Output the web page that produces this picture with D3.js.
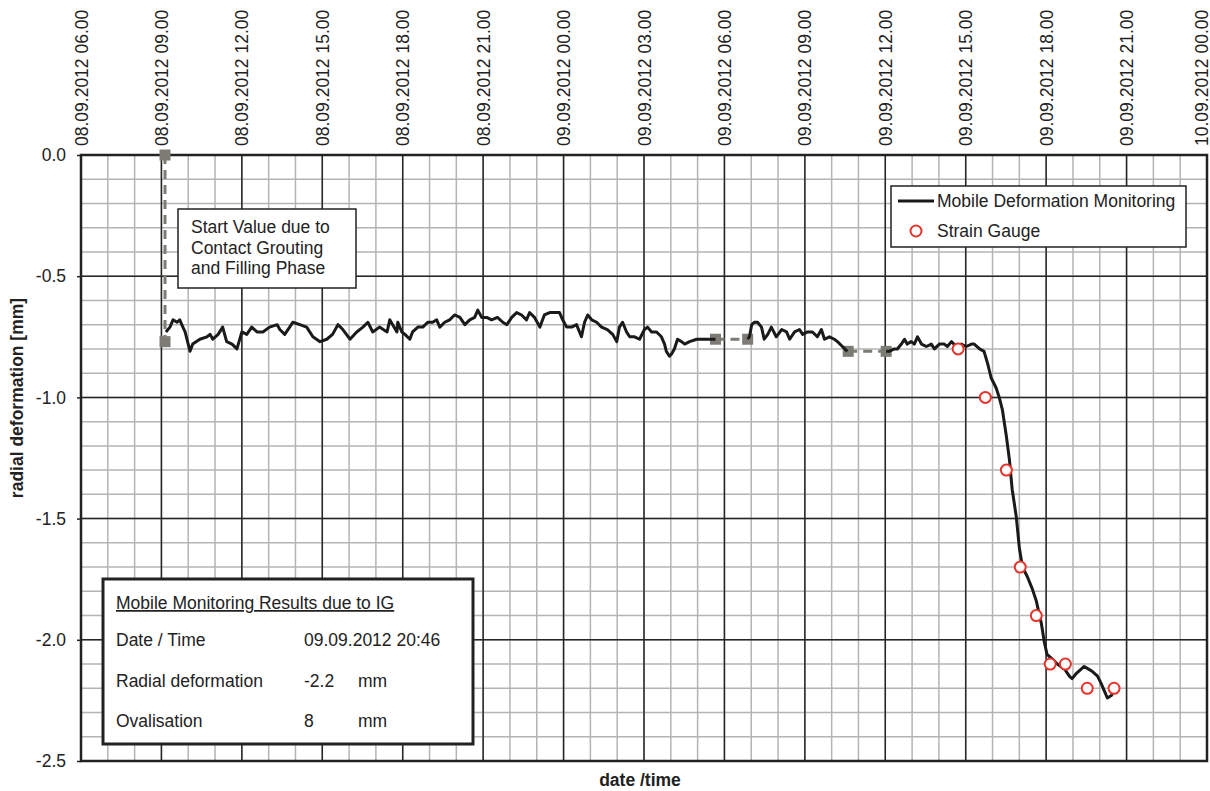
<!DOCTYPE html>
<html>
<head>
<meta charset="utf-8">
<script src="https://cdn.jsdelivr.net/npm/d3@7"></script>
<style>
  html, body { margin: 0; padding: 0; background: #fff; }
  svg { display: block; font-family: "Liberation Sans", Arial, sans-serif; }
  .grid-minor line { stroke: #b4b4b4; stroke-width: 1.5; }
  .grid-major line { stroke: #262626; stroke-width: 1.5; }
  .axis path { display: none; }
  .axis text { font-size: 17.5px; fill: #222; }
  .axis line { stroke: #222; stroke-width: 1.5; }
  .box-text { font-size: 17.5px; fill: #222; }
</style>
</head>
<body>
<div id="chart"></div>
<script>
// hours since 08.09.2012 00:00, null = gap in the record
const monitorHours = [
  9.17, 9.32, 9.43, 9.58, 9.69, 9.80, 9.88, 10.06, 10.17, 10.44, 10.70, 10.81, 10.92, 11.11, 11.29,
  11.44, 11.63, 11.81, 12.00, 12.19, 12.37, 12.56, 12.78, 13.04, 13.31, 13.42, 13.60, 13.79, 13.90,
  14.16, 14.42, 14.65, 14.91, 15.17, 15.39, 15.58, 15.77, 16.03, 16.29, 16.51, 16.70, 16.88, 17.14,
  17.41, 17.52, 17.78, 17.82, 17.96, 18.08, 18.26, 18.37, 18.56, 18.75, 18.93, 19.12, 19.27, 19.38,
  19.57, 19.75, 19.94, 20.13, 20.31, 20.50, 20.69, 20.80, 20.95, 21.13, 21.32, 21.54, 21.73, 21.88,
  22.06, 22.25, 22.44, 22.62, 22.74, 22.92, 23.11, 23.29, 23.48, 23.67, 23.85, 23.97, 24.11, 24.30,
  24.49, 24.67, 24.79, 24.90, 25.05, 25.23, 25.42, 25.64, 25.83, 25.98, 26.09, 26.20, 26.35, 26.46,
  26.65, 26.84, 27.02, 27.13, 27.28, 27.47, 27.65, 27.77, 27.84, 27.95, 28.03, 28.14, 28.25, 28.40,
  28.51, 28.70, 28.96, 29.52, 29.67,
  null,
  30.86, 30.93, 31.01, 31.12, 31.23, 31.38, 31.49, 31.61, 31.75, 31.94, 32.13, 32.31, 32.43, 32.61,
  32.80, 32.91, 33.10, 33.28, 33.47, 33.62, 33.73, 33.92, 34.10, 34.22, 34.40, 34.59,
  null,
  36.04, 36.15, 36.34, 36.45, 36.60, 36.71, 36.82, 36.97, 37.08, 37.20, 37.35, 37.53, 37.72, 37.83,
  38.02, 38.20, 38.31, 38.46, 38.65, 38.84, 39.02, 39.21, 39.32, 39.51, 39.69, 39.81, 39.95, 40.14,
  40.25, 40.36, 40.51, 40.63, 40.74, 40.89, 41.00, 41.11, 41.30, 41.48, 41.63, 41.74, 41.82, 41.93,
  42.04, 42.23, 42.41, 42.68, 42.86, 42.97, 43.12, 43.31, 43.42, 43.57, 43.72, 43.91, 44.05, 44.17,
  44.28, 44.43, 44.54
];
const monitorValues = [
  -0.73, -0.71, -0.68, -0.69, -0.68, -0.71, -0.73, -0.81, -0.78, -0.76, -0.75, -0.74, -0.76, -0.74, -0.71,
  -0.77, -0.78, -0.80, -0.73, -0.74, -0.71, -0.73, -0.73, -0.71, -0.70, -0.72, -0.74, -0.71, -0.69,
  -0.70, -0.71, -0.75, -0.77, -0.76, -0.74, -0.70, -0.72, -0.76, -0.73, -0.71, -0.69, -0.73, -0.71,
  -0.73, -0.68, -0.73, -0.69, -0.73, -0.74, -0.76, -0.73, -0.71, -0.71, -0.69, -0.69, -0.68, -0.71,
  -0.69, -0.68, -0.66, -0.67, -0.70, -0.68, -0.67, -0.64, -0.67, -0.67, -0.68, -0.67, -0.69, -0.70,
  -0.67, -0.65, -0.66, -0.68, -0.65, -0.67, -0.71, -0.66, -0.65, -0.65, -0.65, -0.68, -0.71, -0.71,
  -0.70, -0.75, -0.69, -0.66, -0.68, -0.69, -0.71, -0.72, -0.74, -0.77, -0.71, -0.69, -0.73, -0.75,
  -0.75, -0.76, -0.72, -0.71, -0.73, -0.73, -0.75, -0.78, -0.81, -0.83, -0.82, -0.80, -0.76, -0.77,
  -0.78, -0.77, -0.76, -0.76, -0.76,
  null,
  -0.76, -0.75, -0.70, -0.69, -0.69, -0.71, -0.76, -0.74, -0.71, -0.75, -0.72, -0.73, -0.76, -0.73,
  -0.72, -0.74, -0.73, -0.73, -0.75, -0.72, -0.76, -0.75, -0.76, -0.77, -0.79, -0.81,
  null,
  -0.81, -0.81, -0.80, -0.80, -0.78, -0.76, -0.78, -0.77, -0.78, -0.75, -0.78, -0.79, -0.78, -0.80,
  -0.78, -0.78, -0.79, -0.77, -0.79, -0.78, -0.79, -0.78, -0.78, -0.80, -0.81, -0.86, -0.92, -0.96,
  -1.00, -1.05, -1.16, -1.26, -1.38, -1.49, -1.62, -1.70, -1.74, -1.79, -1.84, -1.89, -1.93, -2.01,
  -2.06, -2.08, -2.10, -2.12, -2.15, -2.16, -2.14, -2.12, -2.11, -2.12, -2.13, -2.15, -2.18, -2.21,
  -2.24, -2.23, -2.21
];

// start value and bridged gaps (grey dashed, square markers)
const bridgeHours = [9.13, 9.13, null, 29.67, 30.86, null, 34.62, 36.04];
const bridgeValues = [0.0, -0.77, null, -0.76, -0.76, null, -0.81, -0.81];

const gaugeHours = [38.72, 39.73, 40.51, 41.03, 41.63, 42.15, 42.71, 43.53, 44.54];
const gaugeValues = [-0.80, -1.00, -1.30, -1.70, -1.90, -2.10, -2.10, -2.20, -2.20];

const yMajorTicks = [0.0, -0.5, -1.0, -1.5, -2.0, -2.5];

const infoTitle = "Mobile Monitoring Results due to IG";
const infoRows = [
  ["Date / Time", "09.09.2012 20:46", ""],
  ["Radial deformation", "-2.2", "mm"],
  ["Ovalisation", "8", "mm"]
];
const noteLines = ["Start Value due to", "Contact Grouting", "and Filling Phase"];
const legendItems = ["Mobile Deformation Monitoring", "Strain Gauge"];

const W = 1210, H = 791;
const margin = { top: 155, right: 3, bottom: 30, left: 81 };

const base = new Date(2012, 8, 8, 0, 0);
const toDate = h => d3.timeMinute.offset(base, Math.round(h * 60));

const svg = d3.select('#chart').append('svg')
  .attr('width', W)
  .attr('height', H);

const x = d3.scaleTime()
  .domain([toDate(6), toDate(48)])
  .range([margin.left, W - margin.right]);
const y = d3.scaleLinear()
  .domain([-2.5, 0])
  .range([H - margin.bottom, margin.top]);

const x0 = x.range()[0], x1 = x.range()[1];
const y0 = y.range()[1], y1 = y.range()[0];

// grid
const minorX = x.ticks(d3.timeHour.every(1));
const majorX = x.ticks(d3.timeHour.every(3));
const minorY = d3.range(0, 26).map(i => -i / 10);

svg.append('g').attr('class', 'grid-minor')
  .selectAll('line.v').data(minorX).join('line')
  .attr('x1', d => x(d)).attr('x2', d => x(d))
  .attr('y1', y0).attr('y2', y1);
svg.append('g').attr('class', 'grid-minor')
  .selectAll('line.h').data(minorY).join('line')
  .attr('x1', x0).attr('x2', x1)
  .attr('y1', d => y(d)).attr('y2', d => y(d));
svg.append('g').attr('class', 'grid-major')
  .selectAll('line').data(majorX).join('line')
  .attr('x1', d => x(d)).attr('x2', d => x(d))
  .attr('y1', y0).attr('y2', y1);
svg.append('g').attr('class', 'grid-major')
  .selectAll('line').data(yMajorTicks).join('line')
  .attr('x1', x0).attr('x2', x1)
  .attr('y1', d => y(d)).attr('y2', d => y(d));

// axes
const fmt = d3.timeFormat('%d.%m.%Y %H.%M');
const topAxis = svg.append('g')
  .attr('class', 'axis')
  .attr('transform', `translate(0,${y0})`)
  .call(d3.axisTop(x).ticks(d3.timeHour.every(3)).tickFormat(fmt).tickSize(0));
topAxis.selectAll('text')
  .attr('transform', 'rotate(-90)')
  .attr('text-anchor', 'start')
  .attr('x', 9)
  .attr('y', 0)
  .attr('dy', (d, i, n) => i === n.length - 1 ? '0em' : '0.35em'); // last one sits on the edge

svg.append('g')
  .attr('class', 'axis')
  .attr('transform', `translate(${x0},0)`)
  .call(d3.axisLeft(y).tickValues(yMajorTicks).tickFormat(d => d.toFixed(1)).tickSize(4).tickPadding(11));

svg.append('text')
  .attr('transform', `translate(23,${(y0 + y1) / 2 - 60}) rotate(-90)`)
  .attr('text-anchor', 'middle')
  .style('font-size', '17.5px')
  .style('font-weight', 'bold')
  .attr('fill', '#222')
  .text('radial deformation [mm]');

svg.append('text')
  .attr('x', (x0 + x1) / 2 - 4)
  .attr('y', 786)
  .attr('text-anchor', 'middle')
  .style('font-size', '17.5px')
  .style('font-weight', 'bold')
  .attr('fill', '#222')
  .text('date /time');

// plot frame
svg.append('rect')
  .attr('x', x0).attr('y', y0)
  .attr('width', x1 - x0).attr('height', y1 - y0)
  .attr('fill', 'none')
  .attr('stroke', '#222')
  .attr('stroke-width', 2.5);

// grey dashed bridges
const bridge = bridgeHours.map((h, i) => ({ h, v: bridgeValues[i] }));
const bridgeLine = d3.line()
  .defined(d => d.v !== null)
  .x(d => x(toDate(d.h)))
  .y(d => y(d.v));
svg.append('path')
  .datum(bridge)
  .attr('d', bridgeLine)
  .attr('fill', 'none')
  .attr('stroke', '#7c7c74')
  .attr('stroke-width', 3)
  .attr('stroke-dasharray', '9,6');
svg.append('g')
  .selectAll('rect').data(bridge.filter(d => d.v !== null)).join('rect')
  .attr('x', d => x(toDate(d.h)) - 5.5)
  .attr('y', d => y(d.v) - 5.5)
  .attr('width', 11).attr('height', 11)
  .attr('fill', '#7c7c74');

// monitoring line
const monitor = monitorHours.map((h, i) => ({ h, v: monitorValues[i] }));
const monitorLine = d3.line()
  .defined(d => d.v !== null)
  .x(d => x(toDate(d.h)))
  .y(d => y(d.v));
svg.append('path')
  .datum(monitor)
  .attr('d', monitorLine)
  .attr('fill', 'none')
  .attr('stroke', '#1a1a1a')
  .attr('stroke-width', 3)
  .attr('stroke-linejoin', 'round');

// strain gauge readings
svg.append('g')
  .selectAll('circle').data(gaugeHours.map((h, i) => ({ h, v: gaugeValues[i] }))).join('circle')
  .attr('cx', d => x(toDate(d.h)))
  .attr('cy', d => y(d.v))
  .attr('r', 5.5)
  .attr('fill', '#fff')
  .attr('stroke', '#e8332a')
  .attr('stroke-width', 2);

// note box
const note = svg.append('g');
note.append('rect')
  .attr('x', 178).attr('y', 209)
  .attr('width', 178).attr('height', 79)
  .attr('fill', '#fff')
  .attr('stroke', '#222')
  .attr('stroke-width', 1.5);
note.selectAll('text').data(noteLines).join('text')
  .attr('class', 'box-text')
  .attr('x', 191)
  .attr('y', (d, i) => 233 + i * 20.5)
  .text(d => d);

// legend
const legend = svg.append('g');
legend.append('rect')
  .attr('x', 891).attr('y', 186)
  .attr('width', 295).attr('height', 61)
  .attr('fill', '#fff')
  .attr('stroke', '#222')
  .attr('stroke-width', 1.5);
legend.append('line')
  .attr('x1', 898).attr('x2', 934)
  .attr('y1', 201).attr('y2', 201)
  .attr('stroke', '#1a1a1a')
  .attr('stroke-width', 3);
legend.append('circle')
  .attr('cx', 916).attr('cy', 231).attr('r', 5.5)
  .attr('fill', '#fff')
  .attr('stroke', '#e8332a')
  .attr('stroke-width', 2);
legend.selectAll('text').data(legendItems).join('text')
  .attr('class', 'box-text')
  .attr('x', 937)
  .attr('y', (d, i) => 207 + i * 30)
  .text(d => d);

// results box
const info = svg.append('g');
info.append('rect')
  .attr('x', 103).attr('y', 579)
  .attr('width', 370).attr('height', 165)
  .attr('fill', '#fff')
  .attr('stroke', '#222')
  .attr('stroke-width', 3);
info.append('text')
  .attr('class', 'box-text')
  .attr('x', 116).attr('y', 609)
  .attr('text-decoration', 'underline')
  .text(infoTitle);
infoRows.forEach((r, i) => {
  const ty = 646 + i * 40.7;
  info.append('text').attr('class', 'box-text').attr('x', 116).attr('y', ty).text(r[0]);
  info.append('text').attr('class', 'box-text').attr('x', 304).attr('y', ty).text(r[1]);
  info.append('text').attr('class', 'box-text').attr('x', 358).attr('y', ty).text(r[2]);
});
</script>
</body>
</html>
